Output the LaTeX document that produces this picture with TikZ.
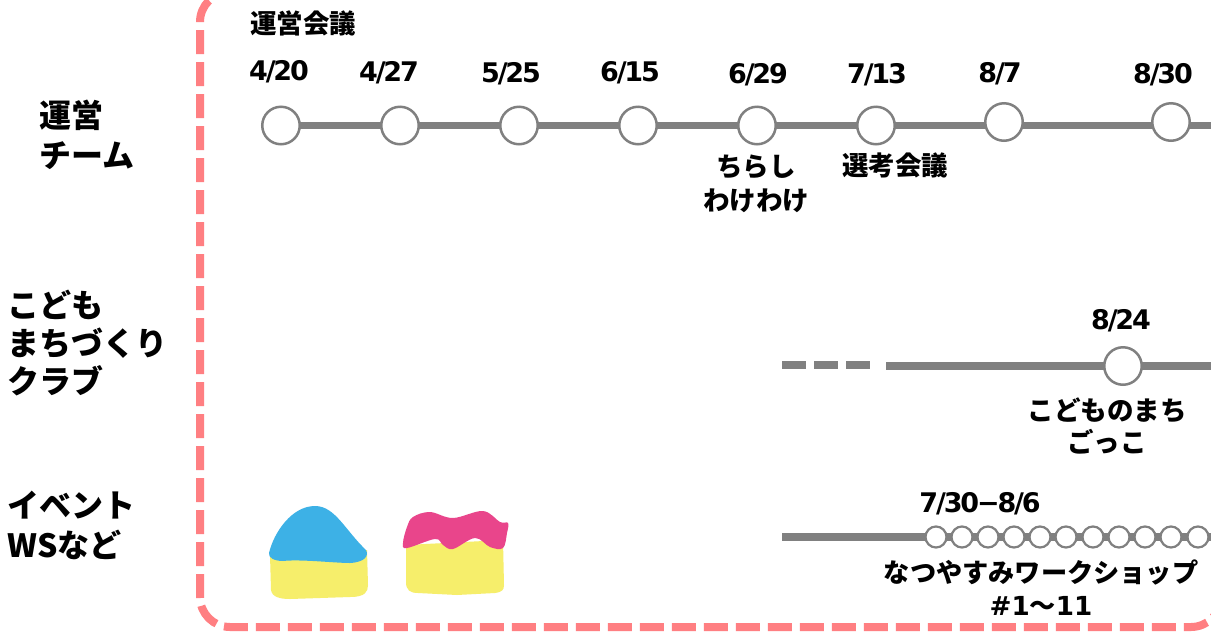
\documentclass[tikz,border=0pt]{standalone}
\usepackage{fontspec}
\setmainfont{Noto Sans CJK JP}
\newfontfamily\latinb{DejaVu Sans}[LetterSpace=-8.0]
\newfontfamily\latinc{DejaVu Sans}
\definecolor{framepink}{HTML}{FF7F82}
\definecolor{linegray}{HTML}{808080}
\definecolor{blobyellow}{HTML}{F6EE6B}
\definecolor{blobblue}{HTML}{3DB1E6}
\definecolor{blobpink}{HTML}{E9458B}
\pgfdeclarelayer{tracks}
\pgfsetlayers{tracks,main}
\tikzset{
  px/.style={x=1pt,y=-1pt},
  frameline/.style={draw=framepink,line width=8pt,dash pattern=on 24pt off 8pt,dash phase=8.9pt},
  track/.style={draw=linegray,line width=7.5pt},
  bigdot/.style={circle,draw=linegray,line width=2.5pt,fill=white,minimum size=37.5pt,inner sep=0pt},
  smalldot/.style={circle,draw=linegray,line width=2.2pt,fill=white,minimum size=21pt,inner sep=0pt},
  rowlabel/.style={font=\fontsize{32}{40}\selectfont\bfseries,align=left,anchor=west,inner sep=0pt},
  note/.style={font=\fontsize{26.5}{34}\selectfont\bfseries,align=center,inner sep=0pt},
  datelabel/.style={font=\fontsize{27}{30}\selectfont\bfseries\latinb,inner sep=0pt},
}
\begin{document}
\begin{tikzpicture}[px]
\useasboundingbox (0,0) rectangle (1211,633);
\begin{pgfonlayer}{tracks}
\fill[white] (0,0) rectangle (1211,633);
\end{pgfonlayer}
\clip (0,0) rectangle (1211,633);
\draw[frameline] (230,-8) arc[start angle=90,end angle=180,radius=30pt] -- (200,597) arc[start angle=180,end angle=270,radius=30pt] -- (1191,627) arc[start angle=270,end angle=360,radius=30pt];

\coordinate (endA) at (1230,125.5);
\coordinate (startB) at (886,366);
\coordinate (endB) at (1230,366);
\coordinate (dashA) at (782,365);
\coordinate (dashB) at (870,365);
\coordinate (startC) at (782,537);
\coordinate (endC) at (1230,537);
\node[bigdot] (a1) at (281,125.5) {};
\node[bigdot] (a2) at (400,125.5) {};
\node[bigdot] (a3) at (519,125.5) {};
\node[bigdot] (a4) at (638,125.5) {};
\node[bigdot] (a5) at (757,125.5) {};
\node[bigdot] (a6) at (876,125.5) {};
\node[bigdot] (a7) at (1004,122) {};
\node[bigdot] (a8) at (1171,122) {};
\node[bigdot] (b1) at (1123,366) {};
\foreach \n/\x in {1/936,2/962,3/988,4/1014,5/1040,6/1066,7/1093,8/1119,9/1145,10/1171,11/1198}
  \node[smalldot] (c\n) at (\x,537) {};
\begin{pgfonlayer}{tracks}
\draw[track] (a1.center) -- (a2.center) -- (a3.center) -- (a4.center) -- (a5.center) -- (a6.center) -- (endA);
\draw[track] (startB) -- (b1.center) -- (endB);
\draw[track,dash pattern=on 24pt off 8pt] (dashA) -- (dashB);
\draw[track] (startC) -- (c1.center) -- (endC);
\end{pgfonlayer}

% blobs
\fill[blobyellow] (270,555) -- (271,590) .. controls (272,597) and (280,599) .. (290,599) -- (350,597) .. controls (365,597) and (368,592) .. (368,585) -- (367,550) -- cycle;
\fill[blobblue] (269,553) .. controls (274,532) and (292,506) .. (315,506) .. controls (335,506) and (345,530) .. (366,550) .. controls (369,556) and (365,562) .. (350,563) .. controls (335,563) and (300,559) .. (283,561) .. controls (275,561) and (268,558) .. (269,553) -- cycle;
\fill[blobyellow] (406,545) -- (406,582) .. controls (406,590) and (410,593) .. (418,593) -- (457,595) -- (495,593) .. controls (502,592) and (504,590) .. (504,585) -- (503,540) -- cycle;
\fill[blobpink] plot[smooth cycle,tension=0.6] coordinates {(403,543) (407,527) (413,517) (430,512) (453,518) (483,511) (500,522) (508,523) (507,533) (503,548) (490,547) (475,538) (453,549) (443,545) (435,539) (407,548)};

% row labels
\node[rowlabel] (r1) at (39,135) {運営\\チーム};
\node[rowlabel,font=\fontsize{32}{38}\selectfont\bfseries] (r2) at (7,343) {こども\\まちづくり\\クラブ};
\node[rowlabel] (r3) at (7,525) {イベント\\WSなど};

% dates
\node[note] (t0) at (303,23) {運営会議};
\node[datelabel] (d1) at (279,72) {4/20};
\node[datelabel] (d2) at (389,73) {4/27};
\node[datelabel] (d3) at (511,74) {5/25};
\node[datelabel] (d4) at (630,73) {6/15};
\node[datelabel] (d5) at (758,75) {6/29};
\node[datelabel] (d6) at (877,75) {7/13};
\node[datelabel] (d7) at (1000,74) {8/7};
\node[datelabel] (d8) at (1163,75) {8/30};
\node[datelabel] (d9) at (1121,321) {8/24};
\node[datelabel] (d10) at (980,504) {7/30−8/6};

% notes
\node[note] (n1) at (756,184) {ちらし\\わけわけ};
\node[note] (n2) at (895,165) {選考会議};
\node[note,font=\fontsize{26.5}{32}\selectfont\bfseries] (n3) at (1107,425.5) {こどものまち\\ごっこ};
\node[note,font=\fontsize{26.2}{33}\selectfont\bfseries] (n4) at (1041,587.5) {なつやすみワークショップ\\{\latinc\#1}～{\latinc 11}};
\end{tikzpicture}
\end{document}
